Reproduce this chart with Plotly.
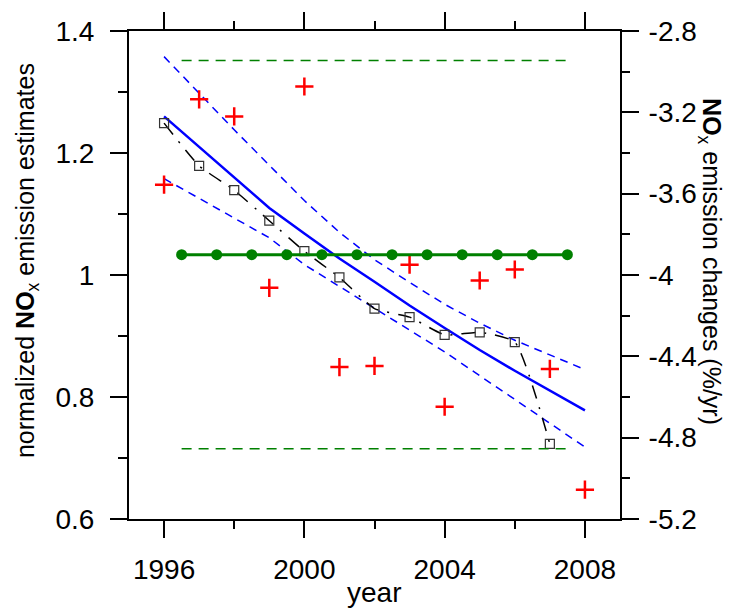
import plotly.graph_objects as go

# ---- data ----
years = [1996, 1997, 1998, 1999, 2000, 2001, 2002, 2003, 2004, 2005, 2006, 2007, 2008]
red_obs = [1.148, 1.288, 1.260, 0.979, 1.309, 0.849, 0.851, 1.017, 0.784, 0.991, 1.009, 0.846, 0.648]

sq_years = [1996, 1997, 1998, 1999, 2000, 2001, 2002, 2003, 2004, 2005, 2006, 2007]
sq_vals = [1.249, 1.179, 1.139, 1.089, 1.039, 0.996, 0.945, 0.931, 0.902, 0.906, 0.890, 0.723]

fit_center = [1.260, 1.210, 1.160, 1.110, 1.068, 1.027, 0.989, 0.950, 0.913, 0.877, 0.843, 0.810, 0.778]
fit_upper = [1.358, 1.298, 1.238, 1.180, 1.122, 1.070, 1.025, 0.988, 0.952, 0.921, 0.893, 0.869, 0.845]
fit_lower = [1.158, 1.126, 1.094, 1.061, 1.017, 0.981, 0.945, 0.910, 0.874, 0.835, 0.796, 0.757, 0.718]

green_years = [1996.5, 1997.5, 1998.5, 1999.5, 2000.5, 2001.5, 2002.5, 2003.5, 2004.5, 2005.5, 2006.5, 2007.5]
green_rate = [-3.9] * 12
band_years = [1996.5, 2007.5]
band_upper = [-2.945, -2.945]
band_lower = [-4.855, -4.855]

left_ticks = [0.6, 0.8, 1.0, 1.2, 1.4]
left_ticktext = ["0.6", "0.8", "1", "1.2", "1.4"]
left_minor = [0.7, 0.9, 1.1, 1.3]
right_ticks = [-5.2, -4.8, -4.4, -4.0, -3.6, -3.2, -2.8]
right_ticktext = ["-5.2", "-4.8", "-4.4", "-4", "-3.6", "-3.2", "-2.8"]
right_minor = [-5.0, -4.6, -4.2, -3.8, -3.4, -3.0]
x_ticks = [1996, 2000, 2004, 2008]
x_minor = [1998, 2002, 2006]

FONT = "Liberation Sans, Arial, sans-serif"
W, H = 729, 610
ML, MR, MT, MB = 129, 109, 27, 91
PW, PH = W - ML - MR, H - MT - MB

fig = go.Figure()

fig.add_trace(go.Scatter(x=years, y=fit_upper, mode="lines",
                         line=dict(color="#0000FF", width=1.5, dash="8px,6px")))
fig.add_trace(go.Scatter(x=years, y=fit_lower, mode="lines",
                         line=dict(color="#0000FF", width=1.5, dash="8px,6px")))
fig.add_trace(go.Scatter(x=years, y=fit_center, mode="lines",
                         line=dict(color="#0000FF", width=2.5)))
fig.add_trace(go.Scatter(x=sq_years, y=sq_vals, mode="lines+markers",
                         line=dict(color="black", width=1.5, dash="14px,9px,2px,9px", shape="spline", smoothing=0.5),
                         marker=dict(symbol="square-open", size=9, color="#333333", line=dict(width=1.2))))

fig.add_trace(go.Scatter(x=band_years, y=band_upper, mode="lines", yaxis="y2",
                         line=dict(color="#008000", width=1.5, dash="10px,7px")))
fig.add_trace(go.Scatter(x=band_years, y=band_lower, mode="lines", yaxis="y2",
                         line=dict(color="#008000", width=1.5, dash="10px,7px")))
fig.add_trace(go.Scatter(x=green_years, y=green_rate, mode="lines+markers", yaxis="y2",
                         line=dict(color="#008000", width=3),
                         marker=dict(symbol="circle", size=11, color="#008000")))

fig.add_trace(go.Scatter(x=years, y=red_obs, mode="markers",
                         marker=dict(symbol="cross-thin", size=13, color="red",
                                     line=dict(color="red", width=2.5))))

axis_common = dict(showline=True, linewidth=2, linecolor="black", ticks="outside",
                   ticklen=17, tickwidth=2, tickcolor="black", showgrid=False, zeroline=False,
                   tickfont=dict(family=FONT, size=28, color="black"))

fig.update_layout(
    width=W, height=H,
    margin=dict(l=ML, r=MR, t=MT, b=MB),
    paper_bgcolor="white", plot_bgcolor="white",
    showlegend=False,
    font=dict(family=FONT, color="black"),
    xaxis=dict(range=[1995, 2009], tickvals=x_ticks, mirror="ticks", ticklabelstandoff=7,
               minor=dict(tickvals=x_minor, ticklen=8, tickwidth=2, ticks="outside", tickcolor="black", showgrid=False),
               **axis_common),
    yaxis=dict(range=[0.6, 1.4], tickvals=left_ticks, ticktext=left_ticktext, ticklabelstandoff=10,
               minor=dict(tickvals=left_minor, ticklen=9, tickwidth=2, ticks="outside", tickcolor="black", showgrid=False),
               **axis_common),
    yaxis2=dict(range=[-5.2, -2.8], overlaying="y", side="right", tickvals=right_ticks, ticktext=right_ticktext,
                ticklabelstandoff=4,
                minor=dict(tickvals=right_minor, ticklen=8, tickwidth=2, ticks="outside", tickcolor="black", showgrid=False),
                **axis_common),
    annotations=[
        dict(text="year", xref="paper", yref="paper", x=(374 - ML) / PW, y=(H - MB - 593) / PH,
             xanchor="center", yanchor="middle", showarrow=False, font=dict(family=FONT, size=28)),
        dict(text="normalized <b>NO</b><sub>x</sub> emission estimates", textangle=-90,
             xref="paper", yref="paper", x=(27 - ML) / PW, y=(H - MB - 259) / PH,
             xanchor="center", yanchor="middle", showarrow=False, font=dict(family=FONT, size=25)),
        dict(text="<b>NO</b><sub>x</sub> emission changes (%/yr)", textangle=90,
             xref="paper", yref="paper", x=(710 - ML) / PW, y=(H - MB - 259) / PH,
             xanchor="center", yanchor="middle", showarrow=False, font=dict(family=FONT, size=25)),
    ],
)

fig.write_html("out.html")
